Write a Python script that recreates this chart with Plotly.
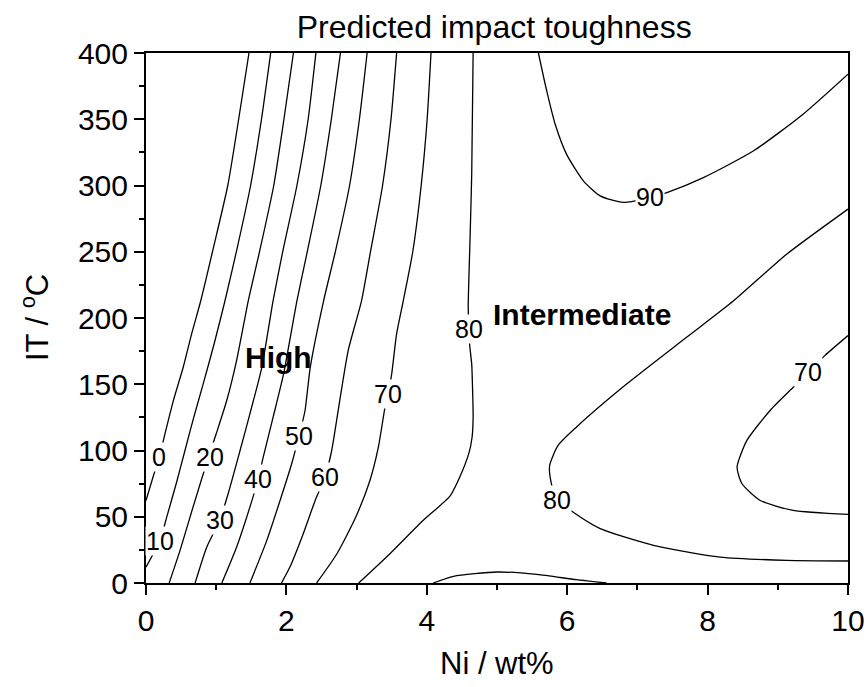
import plotly.graph_objects as go

# ---- contour lines (Ni wt%, IT degC) ----
c0_x = [0.0, 0.10, 0.19, 0.27, 0.39, 0.53, 0.65, 0.78, 0.95, 1.165, 1.32, 1.467]
c0_y = [62.3, 80.0, 95.0, 112.6, 137.7, 162.8, 188.0, 213.0, 250.7, 300.0, 350.0, 400.0]

c10_x = [0.0, 0.20, 0.295, 0.43, 0.555, 0.68, 0.815, 0.97, 1.125, 1.29, 1.49, 1.645, 1.776]
c10_y = [12.0, 32.0, 49.7, 74.9, 100.0, 125.0, 150.3, 180.4, 213.0, 250.7, 300.0, 350.0, 400.0]

c20_x = [0.33, 0.485, 0.67, 0.89, 1.0, 1.15, 1.29, 1.457, 1.62, 1.82, 1.965, 2.10]
c20_y = [0.0, 24.6, 57.3, 95.0, 112.6, 137.7, 167.9, 213.0, 250.7, 300.0, 350.0, 400.0]

c30_x = [0.70, 0.865, 1.05, 1.17, 1.34, 1.48, 1.65, 1.81, 1.95, 2.15, 2.31, 2.42]
c30_y = [0.0, 27.0, 47.3, 67.4, 100.0, 127.7, 162.8, 213.0, 250.7, 300.0, 350.0, 400.0]

c40_x = [1.08, 1.29, 1.48, 1.60, 1.67, 1.81, 1.96, 2.15, 2.30, 2.49, 2.64, 2.77]
c40_y = [0.0, 27.0, 57.3, 78.7, 95.0, 125.0, 157.8, 213.0, 250.7, 300.0, 350.0, 400.0]

c50_x = [1.48, 1.72, 1.91, 2.075, 2.18, 2.265, 2.34, 2.53, 2.70, 2.90, 3.04, 3.15]
c50_y = [0.0, 32.0, 62.3, 90.0, 111.0, 130.0, 162.8, 213.0, 250.7, 300.0, 350.0, 400.0]

c60_x = [1.93, 2.05, 2.24, 2.41, 2.55, 2.645, 2.76, 2.88, 3.07, 3.20, 3.37, 3.49, 3.57]
c60_y = [0.0, 12.0, 37.2, 62.3, 80.0, 100.0, 137.7, 175.4, 213.0, 250.7, 300.0, 350.0, 400.0]

c70_x = [2.43, 2.72, 2.99, 3.19, 3.31, 3.405, 3.45, 3.50, 3.57, 3.665, 3.80, 3.92, 4.005, 4.06]
c70_y = [0.0, 22.1, 50.0, 77.4, 102.5, 132.7, 143.0, 157.8, 188.0, 213.0, 250.0, 300.0, 350.0, 400.0]

c80a_x = [3.03, 3.475, 3.95, 4.33, 4.47, 4.60, 4.645, 4.66, 4.65, 4.64, 4.61, 4.60, 4.59, 4.615, 4.64, 4.66]
c80a_y = [0.0, 22.1, 47.3, 65.5, 80.0, 98.0, 110.0, 125.0, 150.0, 165.0, 180.0, 192.0, 208.0, 258.0, 309.0, 400.0]

c80b_x = [10.0, 9.13, 8.37, 7.70, 6.85, 6.13, 5.87, 5.75, 5.77, 5.85, 6.06, 6.47, 7.23, 8.18, 9.13, 10.0]
c80b_y = [282.2, 248.3, 213.0, 185.4, 150.3, 117.6, 103.8, 88.7, 76.1, 63.0, 54.3, 41.0, 28.4, 19.6, 17.1, 16.6]

c80c_x = [4.09, 4.38, 5.0, 5.57, 6.13, 6.56]
c80c_y = [0.0, 5.0, 8.3, 6.5, 2.5, 0.0]

c90_x = [5.59, 5.71, 5.83, 5.99, 6.23, 6.47, 6.80, 7.18, 7.42, 7.94, 8.65, 9.36, 10.0]
c90_y = [400.0, 371.0, 346.0, 323.7, 303.5, 292.2, 287.2, 291.0, 294.7, 306.0, 326.0, 353.8, 384.0]

c70b_x = [10.0, 9.67, 9.435, 9.22, 8.89, 8.56, 8.42, 8.49, 8.75, 9.22, 10.0]
c70b_y = [186.7, 171.6, 159.0, 147.7, 130.2, 107.6, 87.4, 74.9, 62.3, 54.8, 51.8]

contours = [
    (c0_x, c0_y), (c10_x, c10_y), (c20_x, c20_y), (c30_x, c30_y),
    (c40_x, c40_y), (c50_x, c50_y), (c60_x, c60_y), (c70_x, c70_y),
    (c80a_x, c80a_y), (c80b_x, c80b_y), (c80c_x, c80c_y),
    (c90_x, c90_y), (c70b_x, c70b_y),
]

# contour level labels
lab_text = ["0", "10", "20", "30", "40", "50", "60", "70", "80", "80", "90", "70"]
lab_x = [0.19, 0.20, 0.91, 1.05, 1.60, 2.18, 2.55, 3.45, 4.605, 5.85, 7.18, 9.435]
lab_y = [95.0, 32.0, 95.0, 47.3, 78.7, 111.0, 80.0, 143.0, 191.8, 63.0, 291.0, 159.0]

# region labels
reg_text = ["High", "Intermediate"]
reg_x = [1.885, 6.21]
reg_y = [170.3, 203.0]

x_ticks = [0, 2, 4, 6, 8, 10]
y_ticks = [0, 50, 100, 150, 200, 250, 300, 350, 400]

FONT = "Liberation Sans, Arial, Helvetica, sans-serif"

fig = go.Figure()
for cx, cy in contours:
    fig.add_trace(go.Scatter(x=cx, y=cy, mode="lines",
                             line=dict(color="black", width=1.3, shape="spline", smoothing=0.6),
                             hoverinfo="skip", showlegend=False))

for t, x, y in zip(lab_text, lab_x, lab_y):
    fig.add_annotation(x=x, y=y, text=t, showarrow=False, bgcolor="white",
                       borderpad=0, font=dict(family=FONT, size=25, color="black"))

for t, x, y in zip(reg_text, reg_x, reg_y):
    fig.add_annotation(x=x, y=y, text="<b>" + t + "</b>", showarrow=False,
                       font=dict(family=FONT, size=30, color="black"))

# axis titles
fig.add_annotation(xref="paper", yref="paper", x=0.5, y=-0.151, yanchor="middle",
                   text="Ni / wt%", showarrow=False,
                   font=dict(family=FONT, size=31, color="black"))
fig.add_annotation(xref="paper", yref="paper", x=-0.158, y=0.5, xanchor="center",
                   text="IT / <sup>o</sup>C", textangle=-90, showarrow=False,
                   font=dict(family=FONT, size=31, color="black"))

axis_common = dict(showgrid=False, zeroline=False, showline=True, linecolor="black",
                   linewidth=2, mirror=True, ticks="outside", ticklen=10, tickwidth=2,
                   tickcolor="black", automargin=False,
                   tickfont=dict(family=FONT, size=30, color="black"))

fig.update_xaxes(range=[0, 10], tickvals=x_ticks,
                 minor=dict(dtick=1, ticks="outside", ticklen=5, tickwidth=2, tickcolor="black", showgrid=False),
                 **axis_common)
fig.update_yaxes(range=[0, 400], tickvals=y_ticks,
                 minor=dict(dtick=25, ticks="outside", ticklen=5, tickwidth=2, tickcolor="black", showgrid=False),
                 **axis_common)

fig.update_layout(
    width=867, height=687,
    margin=dict(l=146, r=19, t=53, b=104),
    paper_bgcolor="white", plot_bgcolor="white",
    title=dict(text="Predicted impact toughness", x=0.570, xanchor="center",
               y=0.961, yanchor="middle", yref="container",
               font=dict(family=FONT, size=32, color="black")),
)

fig.write_html("out.html")
